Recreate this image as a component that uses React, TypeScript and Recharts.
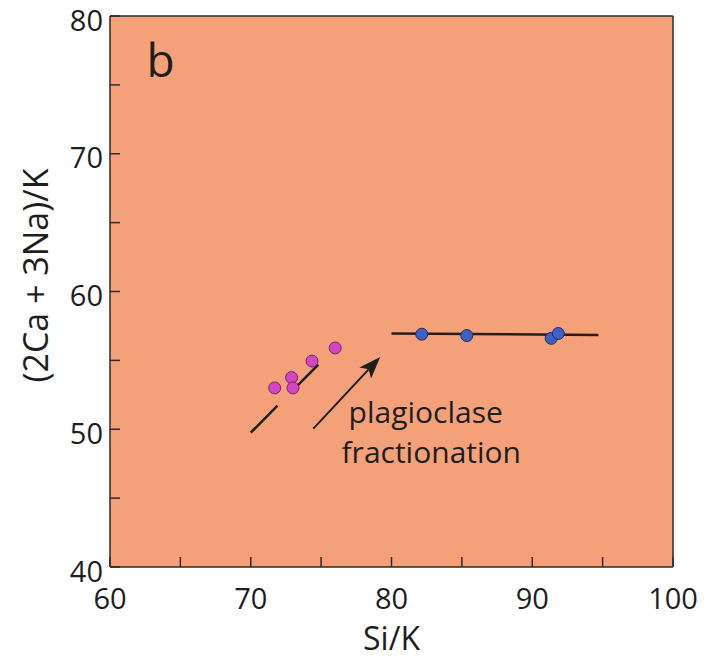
import {
  ScatterChart, Scatter, XAxis, YAxis, CartesianGrid, ReferenceLine, ReferenceDot,
} from 'recharts'

// ─── Data ────────────────────────────────────────────────────────────────────

const X_TICKS = [60, 65, 70, 75, 80, 85, 90, 95, 100]
const Y_TICKS = [40, 45, 50, 55, 60, 65, 70, 75, 80]

// pink group (low Si/K)
const PINK_SI_K = [71.7, 72.9, 73.0, 74.35, 76.0]
const PINK_CANA_K = [53.0, 53.75, 53.0, 54.95, 55.9]

// blue group (high Si/K)
const BLUE_SI_K = [82.15, 85.35, 91.35, 91.85]
const BLUE_CANA_K = [56.9, 56.8, 56.6, 56.95]

const PINK_TREND = [{ x: 70, y: 49.75 }, { x: 74.8, y: 54.7 }]
const BLUE_TREND = [{ x: 80, y: 56.95 }, { x: 94.7, y: 56.85 }]
const ARROW = [{ x: 74.45, y: 50.05 }, { x: 79.2, y: 55.25 }]

const PANEL_LABEL = { x: 63.6, y: 75.6, text: 'b' }
const NOTE_LINES = [
  { x: 76.95, y: 50.45, text: 'plagioclase' },
  { x: 76.45, y: 47.55, text: 'fractionation' },
]

const pinkData = PINK_SI_K.map((x, i) => ({ x, y: PINK_CANA_K[i] }))
const blueData = BLUE_SI_K.map((x, i) => ({ x, y: BLUE_CANA_K[i] }))

// ─── Style ───────────────────────────────────────────────────────────────────

const FONT = '"Open Sans", "DejaVu Sans", sans-serif'
const BG = '#F4A17A'
const FRAME = '#2b2b2b'
const INK = '#1e1e1e'
const TICK_LEN = 10
const TICK_FONT = 29

// ticks point into the plot on all four sides; labels only every 10
function BottomTick({ x, y, payload }: any) {
  const v = payload.value
  return (
    <g>
      <line x1={x} y1={y} x2={x} y2={y - TICK_LEN} stroke={FRAME} strokeWidth={1.5} />
      {v % 10 === 0 && (
        <text x={x} y={y + 30} textAnchor="middle" dominantBaseline="central" fontSize={TICK_FONT} fontFamily={FONT} fill={INK}>
          {v}
        </text>
      )}
    </g>
  )
}

function LeftTick({ x, y, payload }: any) {
  const v = payload.value
  return (
    <g>
      <line x1={x} y1={y} x2={x + TICK_LEN} y2={y} stroke={FRAME} strokeWidth={1.5} />
      {v % 10 === 0 && (
        <text x={x - 7} y={y + 3} textAnchor="end" dominantBaseline="central" fontSize={TICK_FONT} fontFamily={FONT} fill={INK}>
          {v}
        </text>
      )}
    </g>
  )
}

function TopTick({ x, y }: any) {
  return <line x1={x} y1={y} x2={x} y2={y + TICK_LEN} stroke={FRAME} strokeWidth={1.5} />
}

function RightTick({ x, y }: any) {
  return <line x1={x} y1={y} x2={x - TICK_LEN} y2={y} stroke={FRAME} strokeWidth={1.5} />
}

function Dot({ cx, cy, fill, stroke }: any) {
  return <circle cx={cx} cy={cy} r={6} fill={fill} stroke={stroke} strokeWidth={1} />
}

function ArrowShape({ x1, y1, x2, y2 }: any) {
  const dx = x2 - x1
  const dy = y2 - y1
  const len = Math.hypot(dx, dy) || 1
  const ux = dx / len
  const uy = dy / len
  const hl = 22
  const hw = 8
  const bx = x2 - ux * hl
  const by = y2 - uy * hl
  const nx = x2 - ux * (hl - 5)
  const ny = y2 - uy * (hl - 5)
  return (
    <g>
      <line x1={x1} y1={y1} x2={nx} y2={ny} stroke={INK} strokeWidth={2} />
      <polygon
        points={`${x2},${y2} ${bx - uy * hw},${by + ux * hw} ${nx},${ny} ${bx + uy * hw},${by - ux * hw}`}
        fill={INK}
      />
    </g>
  )
}

function YTitle(props: any) {
  const vb = props.viewBox ?? { x: 0, y: 16, width: 110, height: 551 }
  const cx = vb.x + 35
  const cy = vb.y + vb.height / 2 - 16
  return (
    <text
      x={cx} y={cy} transform={`rotate(-90 ${cx} ${cy})`}
      textAnchor="middle" dominantBaseline="central"
      fontSize={34} fontFamily={FONT} fill={INK}
    >
      (2Ca + 3Na)/K
    </text>
  )
}

export default function App() {
  return (
    <div style={{ width: 709, height: 659, background: '#fff' }}>
      <style>{'body{margin:0}'}</style>
      <ScatterChart width={709} height={659} margin={{ top: 0, right: 0, bottom: 0, left: 0 }}>
        <CartesianGrid horizontal={false} vertical={false} fill={BG} fillOpacity={1} stroke="none" />

        <XAxis
          type="number" dataKey="x" domain={[60, 100]} ticks={X_TICKS} interval={0}
          height={92} tickSize={0} tickMargin={0} tickLine={false}
          axisLine={{ stroke: FRAME, strokeWidth: 1.5 }}
          tick={(p: any) => <BottomTick {...p} />}
          label={{ value: 'Si/K', position: 'insideBottom', offset: 9, fontSize: 32, fill: INK, fontFamily: FONT }}
        />
        <XAxis
          xAxisId="top" orientation="top" type="number" domain={[60, 100]} ticks={X_TICKS} interval={0}
          height={16} tickSize={0} tickMargin={0} tickLine={false}
          axisLine={{ stroke: FRAME, strokeWidth: 1.5 }}
          tick={(p: any) => <TopTick {...p} />}
        />
        <YAxis
          type="number" dataKey="y" domain={[40, 80]} ticks={Y_TICKS} interval={0}
          width={110} tickSize={0} tickMargin={0} tickLine={false}
          axisLine={{ stroke: FRAME, strokeWidth: 1.5 }}
          tick={(p: any) => <LeftTick {...p} />}
          label={{ content: (p: any) => <YTitle {...p} /> }}
        />
        <YAxis
          yAxisId="right" orientation="right" type="number" domain={[40, 80]} ticks={Y_TICKS} interval={0}
          width={36} tickSize={0} tickMargin={0} tickLine={false}
          axisLine={{ stroke: FRAME, strokeWidth: 1.5 }}
          tick={(p: any) => <RightTick {...p} />}
        />

        <ReferenceLine segment={PINK_TREND} stroke={INK} strokeWidth={2.5} strokeDasharray="38 22" />
        <ReferenceLine segment={BLUE_TREND} stroke="#2a1d18" strokeWidth={2.5} />
        <ReferenceLine segment={ARROW} shape={(p: any) => <ArrowShape {...p} />} />

        <Scatter
          data={pinkData} isAnimationActive={false}
          shape={(p: any) => <Dot {...p} fill="#D445C4" stroke="#6e2a5e" />}
        />
        <Scatter
          data={blueData} isAnimationActive={false}
          shape={(p: any) => <Dot {...p} fill="#3E60C2" stroke="#1d2d6e" />}
        />

        <ReferenceDot
          x={PANEL_LABEL.x} y={PANEL_LABEL.y} r={0}
          shape={(p: any) => (
            <text x={p.cx} y={p.cy} textAnchor="middle" fontSize={46} fontFamily={FONT} fill={INK}>
              {PANEL_LABEL.text}
            </text>
          )}
        />
        {NOTE_LINES.map((n) => (
          <ReferenceDot
            key={n.text} x={n.x} y={n.y} r={0}
            shape={(p: any) => (
              <text x={p.cx} y={p.cy} textAnchor="start" fontSize={30} fontFamily={FONT} fill={INK}>
                {n.text}
              </text>
            )}
          />
        ))}
      </ScatterChart>
    </div>
  )
}
